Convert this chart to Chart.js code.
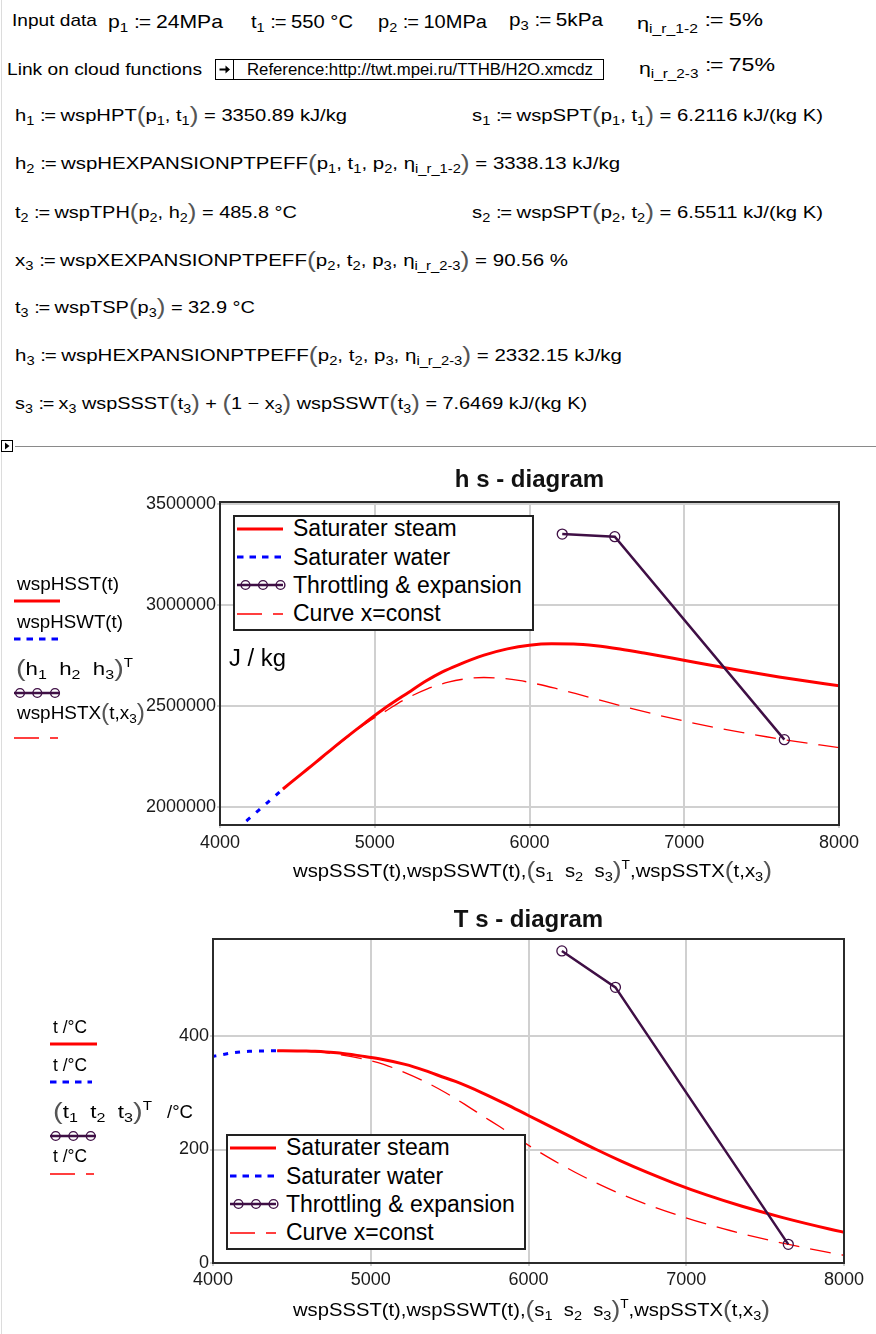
<!DOCTYPE html>
<html lang="en">
<head>
<meta charset="utf-8">
<title>h s - diagram, T s - diagram</title>
<script src="https://cdn.jsdelivr.net/npm/chart.js@4.4.1/dist/chart.umd.min.js"></script>
<style>
html,body{margin:0;padding:0;background:#fff;}
body{position:relative;width:876px;height:1334px;overflow:hidden;font-family:"Liberation Sans",Arial,sans-serif;color:#000;}
.t{position:absolute;white-space:nowrap;line-height:1;transform-origin:0 0;}
.t sub{font-size:.72em;vertical-align:-.32em;line-height:0;}
.t sup{font-size:.68em;vertical-align:.62em;line-height:0;}
.p{font-size:1.3em;color:#555;line-height:0;vertical-align:-.06em;}
.eta{display:inline-block;vertical-align:-.18em;font-size:.92em;line-height:1;}
.cv{position:absolute;left:0;}
.leg{position:absolute;border:2px solid #222;background:#fff;box-sizing:border-box;}
.smp{position:absolute;overflow:visible;}
#vline{position:absolute;left:1px;top:0;width:1px;height:1334px;background:#dcdcdc;}
#sep{position:absolute;left:15px;top:446px;width:861px;height:1px;background:#8a8a8a;}
#sepbox{position:absolute;left:1px;top:440px;width:12px;height:12px;border:1px solid #000;box-sizing:border-box;background:#fff;}
#sepbox svg{position:absolute;left:0;top:0;}
#link{position:absolute;left:215px;top:59px;width:389px;height:21px;border:1px solid #000;box-sizing:border-box;}
#link .ic{position:absolute;left:0;top:0;width:17px;height:19px;border-right:1px solid #000;}
</style>
</head>
<body>
<div id="vline"></div>
<div id="sep"></div>
<div id="sepbox"><svg width="10" height="10"><polygon points="3,1.5 7.5,5 3,8.5" fill="#000"/></svg></div>
<div id="link"><div class="ic"><svg width="17" height="19"><path d="M3.5 9.5h7" stroke="#000" stroke-width="2"/><polygon points="9.5,5.5 14,9.5 9.5,13.5" fill="#000"/></svg></div></div>
<div class="cv" style="top:460px"><canvas id="hs" width="876" height="420"></canvas></div>
<div class="cv" style="top:895px"><canvas id="ts" width="876" height="420"></canvas></div>
<script>
// ================= DATA =================
const seriesNames = ["Saturater steam", "Saturater water", "Throttling & expansion", "Curve x=const"];

const xTicks   = [4000, 5000, 6000, 7000, 8000];          // s, J/(kg K)
const hsYTicks = [2000000, 2500000, 3000000, 3500000];    // h, J/kg
const tsYTicks = [0, 200, 400];                           // t, °C

// saturated steam line
const satTempC = [373.95, 373.8, 373.5, 373, 372, 370, 365, 360, 350, 340, 330, 320, 300, 280, 260, 240, 220, 200, 180, 160, 140, 120, 100, 80, 60, 50, 40];
const steamS   = [4407, 4533, 4591, 4647, 4715, 4802, 4935, 5053, 5218, 5336, 5434, 5537, 5706, 5857, 5999, 6143, 6285, 6430, 6584, 6749, 6929, 7128, 7354, 7612, 7907, 8075, 8256];
const steamH   = [2087500, 2166000, 2202500, 2237500, 2280500, 2334500, 2414000, 2481500, 2566000, 2625000, 2667000, 2702000, 2751000, 2782000, 2800000, 2807000, 2806000, 2797000, 2781000, 2760000, 2735500, 2707000, 2676000, 2643000, 2608800, 2591300, 2573500];

// saturated water line
const waterTempC = [360, 365, 370, 372, 373, 373.5, 373.8, 373.95];
const waterS     = [3915, 4017, 4114, 4178, 4229, 4270, 4314, 4407];
const waterH     = [1761500, 1825600, 1890700, 1933800, 1968000, 1995600, 2025000, 2087500];

// curve x = x3 = const
const xConstTempC = [373.95, 373.8, 373.5, 373, 372, 370, 360, 350, 340, 320, 300, 280, 260, 240, 220, 200, 180, 160, 140, 120, 100, 80, 60, 50, 40, 30, 20, 10];
const xConstS     = [4407, 4512, 4561, 4608, 4664, 4737, 4945, 5082, 5177, 5340, 5475, 5594, 5705, 5819, 5930, 6043, 6164, 6295, 6439, 6599, 6783, 6995, 7239, 7379, 7530, 7695, 7876, 8074];
const xConstH     = [2087500, 2152700, 2183000, 2212100, 2247800, 2292600, 2413500, 2479300, 2524400, 2583700, 2617000, 2634200, 2640000, 2636400, 2625800, 2608900, 2587100, 2560900, 2531100, 2498000, 2462600, 2425100, 2386200, 2366400, 2346400, 2326200, 2305800, 2285400];

// process points 1-2-3
const processS     = [6211.6, 6551.1, 7646.9];
const processH     = [3350890, 3338130, 2332150];
const processTempC = [550, 485.8, 32.9];

// ================= STYLE =================
const C_STEAM = '#ff0000', C_WATER = '#0000ff', C_PROC = '#3f0f45', C_X = '#ff0000', GRID = '#d0d0d0';
Chart.defaults.font.family = '"Liberation Sans", Arial, sans-serif';

const pts = (xs, ys) => xs.map((x, i) => ({ x: x, y: ys[i] }));

function datasets(yProc, ySteam, yWater, yX, waterDash) {
  return [
    { label: seriesNames[2], data: pts(processS, yProc), showLine: true, borderColor: C_PROC, borderWidth: 2.5,
      pointRadius: 5, pointStyle: 'circle', pointBackgroundColor: 'rgba(255,255,255,0)', pointBorderColor: C_PROC, pointBorderWidth: 1.3, tension: 0 },
    { label: seriesNames[0], data: pts(steamS, ySteam), showLine: true, borderColor: C_STEAM, borderWidth: 3, pointRadius: 0, cubicInterpolationMode: 'monotone' },
    { label: seriesNames[1], data: pts(waterS, yWater), showLine: true, borderColor: C_WATER, borderWidth: 3, borderDash: waterDash, pointRadius: 0, cubicInterpolationMode: 'monotone' },
    { label: seriesNames[3], data: pts(xConstS, yX), showLine: true, borderColor: C_X, borderWidth: 1.3, borderDash: [21, 11], pointRadius: 0, cubicInterpolationMode: 'monotone' }
  ];
}

const framePlugin = {
  id: 'frame',
  afterDatasetsDraw(chart) {
    const a = chart.chartArea, c = chart.ctx;
    c.save(); c.strokeStyle = '#2b2b2b'; c.lineWidth = 2;
    c.strokeRect(a.left, a.top, a.right - a.left, a.bottom - a.top); c.restore();
  }
};

function makeChart(id, o) {
  return new Chart(document.getElementById(id), {
    type: 'scatter',
    data: { datasets: o.datasets },
    options: {
      responsive: false, animation: false, events: [],
      layout: { padding: { left: 0, top: o.padT, right: o.padR, bottom: o.padB } },
      plugins: {
        legend: { display: false }, tooltip: { enabled: false },
        title: { display: true, text: o.title, fullSize: false, color: '#111', font: { size: 24, weight: 'bold' }, padding: { top: o.tT, bottom: o.tB } }
      },
      scales: {
        x: { type: 'linear', position: 'bottom', min: xTicks[0], max: xTicks[xTicks.length - 1],
             afterBuildTicks: s => { s.ticks = xTicks.map(v => ({ value: v })); },
             afterFit: s => { s.height = 30; },
             grid: { color: GRID, lineWidth: 2, drawTicks: true, tickLength: 3 },
             border: { display: false },
             ticks: { padding: o.xPad, color: '#1a1a1a', font: { size: 18 }, maxRotation: 0, autoSkip: false, callback: v => String(v) } },
        y: { type: 'linear', position: 'left', min: o.yMin, max: o.yMax,
             afterBuildTicks: s => { s.ticks = o.yTicks.map(v => ({ value: v })); },
             afterFit: s => { s.width = o.yW; },
             grid: { color: GRID, lineWidth: 2, drawTicks: true, tickLength: 3 },
             border: { display: false },
             ticks: { padding: 1, color: '#1a1a1a', font: { size: 18 }, autoSkip: false, callback: v => String(v) } }
      }
    },
    plugins: [framePlugin]
  });
}

makeChart('hs', {
  title: 'h s - diagram', padT: 4, tT: 1.6, tB: 7.6, padR: 37, padB: 25, yW: 220, xPad: 4,
  yMin: 1909000, yMax: 3510000, yTicks: hsYTicks,
  datasets: datasets(processH, steamH, waterH, xConstH, [5, 8])
});
makeChart('ts', {
  title: 'T s - diagram', padT: 4, tT: 6.6, tB: 4.6, padR: 32, padB: 22, yW: 213, xPad: 3,
  yMin: 0, yMax: 571, yTicks: tsYTicks,
  datasets: datasets(processTempC, satTempC, waterTempC, xConstTempC, [5, 7])
});

// ================= TEXT =================
function T(x, base, fs, html, w, parent) {
  const d = document.createElement('div');
  d.className = 't';
  d.style.left = x + 'px';
  d.style.top = (base - 0.846 * fs) + 'px';
  d.style.fontSize = fs + 'px';
  d.innerHTML = html;
  (parent || document.body).appendChild(d);
  if (w) { const nw = d.getBoundingClientRect().width; if (nw > 0) d.style.transform = 'scaleX(' + (w / nw) + ')'; }
  return d;
}
function sample(parent, x, cy, w, kind, circles) {
  let s = '<svg class="smp" style="left:' + x + 'px;top:' + (cy - 7) + 'px" width="' + w + '" height="14">';
  if (kind === 'steam') s += '<line x1="0" y1="7" x2="' + w + '" y2="7" stroke="' + C_STEAM + '" stroke-width="3"/>';
  if (kind === 'water') s += '<line x1="0" y1="7" x2="' + w + '" y2="7" stroke="' + C_WATER + '" stroke-width="3" stroke-dasharray="6.5 6"/>';
  if (kind === 'xc') s += '<line x1="0" y1="7" x2="' + w + '" y2="7" stroke="' + C_X + '" stroke-width="1.3" stroke-dasharray="25 11"/>';
  if (kind === 'proc') {
    s += '<line x1="0" y1="7" x2="' + w + '" y2="7" stroke="' + C_PROC + '" stroke-width="2.5"/>';
    circles.forEach(cx => { s += '<circle cx="' + cx + '" cy="7" r="4.4" fill="none" stroke="' + C_PROC + '" stroke-width="1.4"/>'; });
  }
  s += '</svg>';
  parent.insertAdjacentHTML('beforeend', s);
}

const DEF = '<span style="letter-spacing:-1px">:=</span>';
const P = x => '<span class="p">(</span>' + x + '<span class="p">)</span>';
const ETA12 = '<span class="eta">η<sub>i_r_1-2</sub></span>';
const ETA23 = '<span class="eta">η<sub>i_r_2-3</sub></span>';

// row 1
T(12, 26, 17, 'Input data', 85);
T(108, 28.3, 18.5, 'p<sub>1</sub> ' + DEF + ' 24MPa', 115);
T(251, 28.3, 18.5, 't<sub>1</sub> ' + DEF + ' 550 °C', 102);
T(378, 28.3, 18.5, 'p<sub>2</sub> ' + DEF + ' 10MPa', 109);
T(509, 26.7, 18.5, 'p<sub>3</sub> ' + DEF + ' 5kPa', 94);
T(637, 27, 18.5, ETA12 + ' ' + DEF + ' 5%', 126);
// row 2
T(7, 75, 17, 'Link on cloud functions', 195);
T(247, 75, 16.5, 'Reference:http://twt.mpei.ru/TTHB/H2O.xmcdz', 346);
T(639, 72, 18.5, ETA23 + ' ' + DEF + ' 75%', 136);
// calculation rows
T(15, 120.5, 16.5, 'h<sub>1</sub> ' + DEF + ' wspHPT' + P('p<sub>1</sub>, t<sub>1</sub>') + ' = 3350.89 kJ/kg', 332);
T(472, 120.5, 16.5, 's<sub>1</sub> ' + DEF + ' wspSPT' + P('p<sub>1</sub>, t<sub>1</sub>') + ' = 6.2116 kJ/(kg K)', 351);
T(15, 168.5, 16.5, 'h<sub>2</sub> ' + DEF + ' wspHEXPANSIONPTPEFF' + P('p<sub>1</sub>, t<sub>1</sub>, p<sub>2</sub>, η<sub>i_r_1-2</sub>') + ' = 3338.13 kJ/kg', 605);
T(15, 217.5, 16.5, 't<sub>2</sub> ' + DEF + ' wspTPH' + P('p<sub>2</sub>, h<sub>2</sub>') + ' = 485.8 °C', 282);
T(472, 217.5, 16.5, 's<sub>2</sub> ' + DEF + ' wspSPT' + P('p<sub>2</sub>, t<sub>2</sub>') + ' = 6.5511 kJ/(kg K)', 351);
T(15, 265.5, 16.5, 'x<sub>3</sub> ' + DEF + ' wspXEXPANSIONPTPEFF' + P('p<sub>2</sub>, t<sub>2</sub>, p<sub>3</sub>, η<sub>i_r_2-3</sub>') + ' = 90.56 %', 553);
T(15, 312.5, 16.5, 't<sub>3</sub> ' + DEF + ' wspTSP' + P('p<sub>3</sub>') + ' = 32.9 °C', 240);
T(15, 360.5, 16.5, 'h<sub>3</sub> ' + DEF + ' wspHEXPANSIONPTPEFF' + P('p<sub>2</sub>, t<sub>2</sub>, p<sub>3</sub>, η<sub>i_r_2-3</sub>') + ' = 2332.15 kJ/kg', 607);
T(15, 408.5, 16.5, 's<sub>3</sub> ' + DEF + ' x<sub>3</sub> wspSSST' + P('t<sub>3</sub>') + ' + ' + P('1 − x<sub>3</sub>') + ' wspSSWT' + P('t<sub>3</sub>') + ' = 7.6469 kJ/(kg K)', 572);

// h s chart side labels
const B = document.body;
T(17, 590.7, 18, 'wspHSST(t)', 102);
sample(B, 14, 601.3, 46, 'steam');
T(17, 628.3, 18, 'wspHSWT(t)', 106);
sample(B, 14, 639, 44, 'water');
T(16, 675, 18, P('h<sub>1</sub>&nbsp; h<sub>2</sub>&nbsp; h<sub>3</sub>') + '<sup>T</sup>', 117);
sample(B, 14, 693.3, 46, 'proc', [6, 23.3, 41]);
T(17, 719.3, 18, 'wspHSTX' + P('t,x<sub>3</sub>'), 128);
sample(B, 14, 738.3, 44, 'xc');
T(229, 666.7, 23, 'J / kg', 57);
const XT = 'wspSSST(t),wspSSWT(t),' + P('s<sub>1</sub>&nbsp; s<sub>2</sub>&nbsp; s<sub>3</sub>') + '<sup>T</sup>,wspSSTX' + P('t,x<sub>3</sub>');
T(293, 877, 18, XT, 479);

// T s chart side labels
T(53, 1033.3, 18, 't /°C', 34);
sample(B, 50, 1044, 47, 'steam');
T(53, 1071.7, 18, 't /°C', 34);
sample(B, 50, 1081.7, 42, 'water');
T(53, 1118.3, 18, P('t<sub>1</sub>&nbsp; t<sub>2</sub>&nbsp; t<sub>3</sub>') + '<sup>T</sup>', 99);
T(167, 1118.3, 18, '/°C', 26);
sample(B, 50, 1136, 46, 'proc', [5.7, 23.3, 40.7]);
T(53, 1162.7, 18, 't /°C', 34);
sample(B, 50, 1174, 44, 'xc');
T(293, 1316.7, 18, XT, 477);

// legends
function legend(left, top, w, h) {
  const box = document.createElement('div');
  box.className = 'leg';
  box.style.left = left + 'px'; box.style.top = top + 'px';
  box.style.width = w + 'px'; box.style.height = h + 'px';
  document.body.appendChild(box);
  const kinds = ['steam', 'water', 'proc', 'xc'];
  seriesNames.forEach((name, i) => {
    const cy = 13.5 + 28.4 * i - 2;
    sample(box, 2, cy, 46, kinds[i], [8.5, 26, 43.5]);
    T(58, cy + 8.2, 23, name.replace('&', '&amp;'), 0, box);
  });
}
legend(233, 515, 301, 116);
legend(226, 1134, 300, 116);
</script>
</body>
</html>
